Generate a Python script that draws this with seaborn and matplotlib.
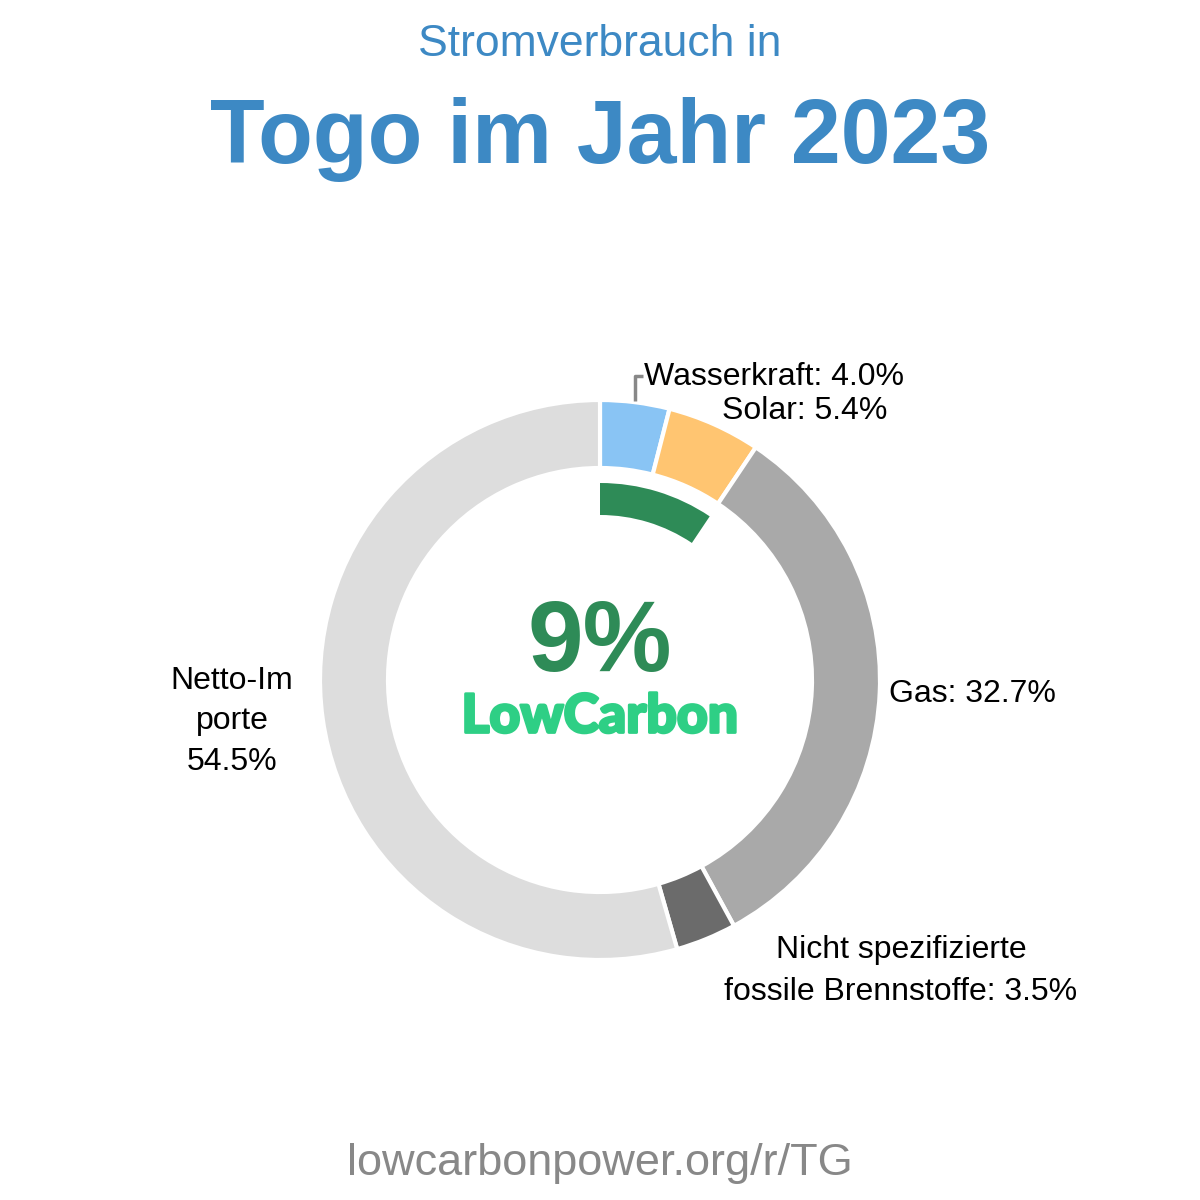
import matplotlib
matplotlib.use("Agg")
import matplotlib.pyplot as plt
import matplotlib.patheffects as pe
import seaborn as sns

sns.set_theme(style="white")
plt.rcParams['font.family'] = ['Liberation Sans', 'DejaVu Sans']

# Data
sources = ["Wasserkraft", "Solar", "Gas", "Nicht spezifizierte fossile Brennstoffe", "Netto-Importe"]
shares = [4.0, 5.4, 32.7, 3.5, 54.5]
colors = ["#89c4f4", "#ffc571", "#a9a9a9", "#6b6b6b", "#dddddd"]
low_carbon_share = shares[0] + shares[1]
low_carbon_label = "9%"

title_small = "Stromverbrauch in"
title_big = "Togo im Jahr 2023"
footer = "lowcarbonpower.org/r/TG"

fig = plt.figure(figsize=(12, 12), dpi=100)
ax = fig.add_axes([0, 0, 1, 1])

def Y(py):
    return 1200 - py

cx, cy = 600, Y(680)

ax.pie(shares, colors=colors, startangle=90, counterclock=False,
       radius=280, center=(cx, cy), frame=True,
       wedgeprops=dict(width=68, edgecolor="white", linewidth=3))

ax.pie([low_carbon_share, 100 - low_carbon_share], colors=["#2e8b57", "none"],
       startangle=90, counterclock=False, radius=197, center=(cx, cy), frame=True,
       wedgeprops=dict(width=32, edgecolor="none", linewidth=0))
ax.set_xlim(0, 1200)
ax.set_ylim(0, 1200)
ax.set_aspect("equal")
ax.axis("off")

# Titles
ax.text(600, Y(56), title_small, ha="center", va="baseline", fontsize=32, color="#3d89c4")
ax.text(600, Y(163), title_big, ha="center", va="baseline", fontsize=64.5, fontweight="bold", color="#3d89c4")

# Center
ax.text(600, Y(645), low_carbon_label, ha="center", va="center", fontsize=72,
        fontweight="bold", color="#2e8b57")
ax.text(600, Y(717), "LowCarbon", ha="center", va="center", fontsize=38.5,
        fontweight="black", color="#2ecf85", family=["Lato", "DejaVu Sans"],
        path_effects=[pe.withStroke(linewidth=2, foreground="#2ecf85")])

# Labels
lab_kw = dict(fontsize=23, color="black", va="baseline")
ax.plot([635, 635, 643], [Y(401), Y(376), Y(376)], color="#888888", lw=2.5, solid_capstyle="butt")
ax.text(644, Y(385), f"{sources[0]}: {shares[0]:.1f}%", ha="left", **lab_kw)
ax.text(887, Y(419), f"{sources[1]}: {shares[1]:.1f}%", ha="right", **lab_kw)
ax.text(889, Y(702), f"{sources[2]}: {shares[2]:.1f}%", ha="left", **lab_kw)
ax.text(901, Y(958), "Nicht spezifizierte", ha="center", **lab_kw)
ax.text(901, Y(1000), f"fossile Brennstoffe: {shares[3]:.1f}%", ha="center", **lab_kw)
ax.text(232, Y(689), "Netto-Im", ha="center", **lab_kw)
ax.text(232, Y(729), "porte", ha="center", **lab_kw)
ax.text(232, Y(770), f"{shares[4]:.1f}%", ha="center", **lab_kw)

ax.text(600, Y(1175), footer, ha="center", va="baseline", fontsize=32.5, color="#888888")

fig.savefig("out.png", dpi=100, facecolor="white")
